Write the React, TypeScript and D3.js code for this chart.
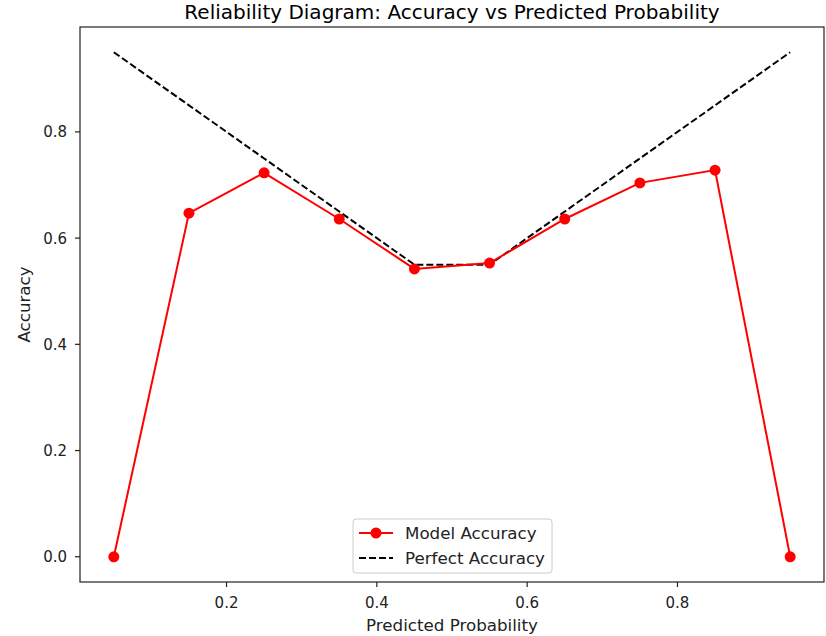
import React from "react";
import * as d3 from "d3";

const binCenters = [0.05, 0.15, 0.25, 0.35, 0.45, 0.55, 0.65, 0.75, 0.85, 0.95];
const modelAccuracy = [0.0, 0.647, 0.723, 0.636, 0.542, 0.553, 0.636, 0.704, 0.728, 0.0];
const perfectAccuracy = [0.95, 0.85, 0.75, 0.65, 0.55, 0.55, 0.65, 0.75, 0.85, 0.95];
const xTicks = [0.2, 0.4, 0.6, 0.8];
const yTicks = [0.0, 0.2, 0.4, 0.6, 0.8];

const W = 826;
const H = 636;
const left = 80;
const right = 824;
const top = 27;
const bottom = 582;
const font = "'DejaVu Sans', sans-serif";

export default function App() {
  const x = d3.scaleLinear().domain([0.005, 0.995]).range([left, right]);
  const y = d3.scaleLinear().domain([-0.0475, 0.9975]).range([bottom, top]);

  const line = d3
    .line<number>()
    .x((_, i) => x(binCenters[i]))
    .y((d) => y(d));

  const cx = (left + right) / 2;
  const legX = 353;
  const legY = 519;

  return (
    <svg
      width={W}
      height={H}
      style={{ position: "absolute", left: 0, top: 0, background: "#fff" }}
      fontFamily={font}
    >
      <text x={cx} y={19} textAnchor="middle" fontSize={20} fill="#000">
        Reliability Diagram: Accuracy vs Predicted Probability
      </text>

      <path
        d={line(perfectAccuracy) || ""}
        fill="none"
        stroke="#000"
        strokeWidth={2}
        strokeDasharray="7,3"
      />
      <path d={line(modelAccuracy) || ""} fill="none" stroke="#ff0000" strokeWidth={2} />
      {modelAccuracy.map((v, i) => (
        <circle key={i} cx={x(binCenters[i])} cy={y(v)} r={5.5} fill="#ff0000" />
      ))}

      <rect
        x={left}
        y={top}
        width={right - left}
        height={bottom - top}
        fill="none"
        stroke="#222"
        strokeWidth={1.2}
      />

      {xTicks.map((t) => (
        <g key={t}>
          <line x1={x(t)} x2={x(t)} y1={bottom} y2={bottom + 5} stroke="#222" strokeWidth={1.2} />
          <text x={x(t)} y={608} textAnchor="middle" fontSize={15} fill="#222">
            {t.toFixed(1)}
          </text>
        </g>
      ))}
      {yTicks.map((t) => (
        <g key={t}>
          <line x1={left - 5} x2={left} y1={y(t)} y2={y(t)} stroke="#222" strokeWidth={1.2} />
          <text x={left - 13} y={y(t) + 5.5} textAnchor="end" fontSize={15} fill="#222">
            {t.toFixed(1)}
          </text>
        </g>
      ))}

      <text x={cx} y={631} textAnchor="middle" fontSize={16.7} fill="#222">
        Predicted Probability
      </text>
      <text
        transform={`translate(30, ${(top + bottom) / 2}) rotate(-90)`}
        textAnchor="middle"
        fontSize={16.7}
        fill="#222"
      >
        Accuracy
      </text>

      <g>
        <rect
          x={legX}
          y={legY}
          width={199}
          height={54}
          rx={3}
          fill="#fff"
          fillOpacity={0.8}
          stroke="#ccc"
          strokeWidth={1}
        />
        <line x1={legX + 6} x2={legX + 40} y1={legY + 14} y2={legY + 14} stroke="#ff0000" strokeWidth={2} />
        <circle cx={legX + 23} cy={legY + 14} r={5.5} fill="#ff0000" />
        <text x={legX + 52} y={legY + 20} fontSize={16.7} fill="#222">
          Model Accuracy
        </text>
        <line
          x1={legX + 6}
          x2={legX + 40}
          y1={legY + 39}
          y2={legY + 39}
          stroke="#000"
          strokeWidth={2}
          strokeDasharray="7,3"
        />
        <text x={legX + 52} y={legY + 45} fontSize={16.7} fill="#222">
          Perfect Accuracy
        </text>
      </g>
    </svg>
  );
}
